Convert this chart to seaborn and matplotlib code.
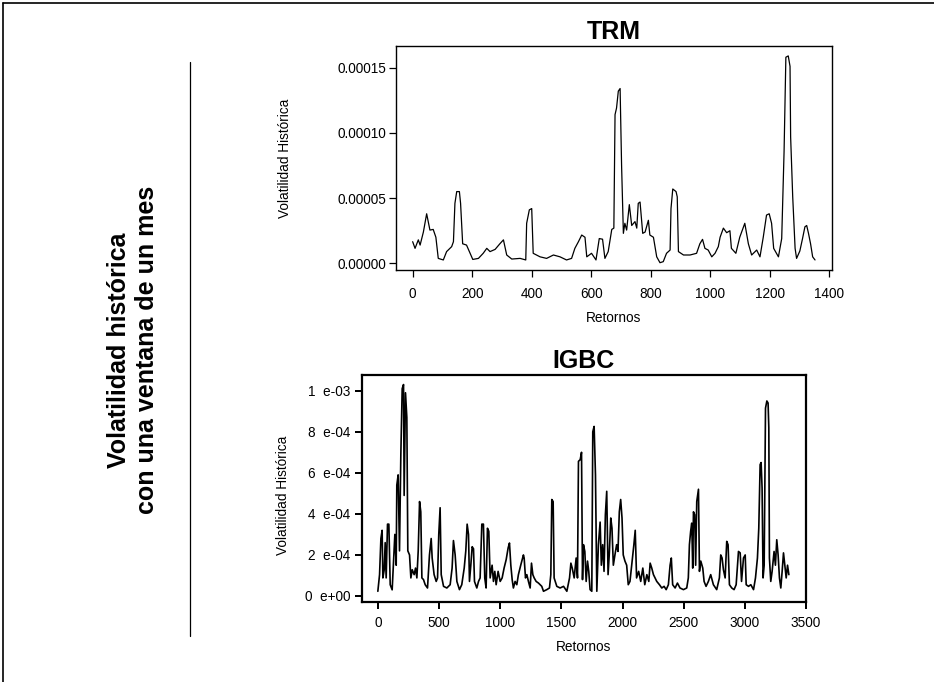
import matplotlib
matplotlib.use("Agg")
import numpy as np
import pandas as pd
import matplotlib.pyplot as plt
import seaborn as sns
from matplotlib.lines import Line2D

# ---------------- data ----------------
trm_x = [0, 8, 19, 25, 36, 47, 58, 69, 78, 86, 103, 114, 131, 137, 142, 148, 157, 161, 168, 181,
         193, 202, 221, 237, 249, 260, 277, 293, 305, 316, 333, 361, 380, 383, 392, 400, 405, 428, 450, 473,
         495, 517, 534, 545, 557, 568, 579, 585, 601, 616, 627, 638, 646, 657, 669, 676, 680, 685, 691, 697,
         702, 708, 713, 719, 728, 736, 747, 753, 758, 764, 773, 781, 792, 797, 809, 820, 831, 842, 853, 865,
         868, 874, 885, 889, 893, 910, 932, 954, 965, 974, 982, 993, 1005, 1016, 1027, 1033, 1044, 1055, 1066, 1071,
         1086, 1099, 1116, 1128, 1139, 1156, 1167, 1178, 1189, 1198, 1206, 1213, 1229, 1240, 1248, 1254, 1262, 1268, 1270, 1277,
         1285, 1290, 1301, 1310, 1318, 1324, 1330, 1337, 1344, 1352]
trm_y = [1.66, 1.15, 1.8, 1.4, 2.4, 3.8, 2.55, 2.6, 2.0, 0.38, 0.26, 0.9, 1.28, 1.66, 4.6, 5.5, 5.5, 4.6, 1.5, 1.4,
         0.77, 0.3, 0.38, 0.77, 1.15, 0.9, 1.07, 1.5, 1.8, 0.64, 0.33, 0.38, 0.26, 3.07, 4.1, 4.2, 0.77, 0.5, 0.38, 0.64,
         0.5, 0.26, 0.38, 1.15, 1.66, 2.17, 2.0, 0.5, 0.77, 0.26, 1.9, 1.85, 0.38, 0.9, 2.6, 2.7, 11.4, 11.9, 13.2, 13.4,
         7.5, 2.3, 3.07, 2.55, 4.5, 2.9, 3.2, 2.7, 4.6, 4.7, 2.3, 2.4, 3.3, 2.17, 2.0, 0.5, 0.05, 0.13, 0.77, 1.02,
         4.2, 5.7, 5.5, 5.1, 0.9, 0.64, 0.64, 0.77, 1.5, 1.84, 1.15, 1.02, 0.5, 0.77, 1.28, 2.0, 2.7, 2.35, 2.5, 1.15,
         0.77, 2.0, 3.07, 1.5, 0.64, 1.02, 0.5, 2.0, 3.7, 3.8, 3.07, 1.15, 0.5, 1.9, 8.6, 15.8, 15.9, 15.1, 9.7, 5.1,
         1.15, 0.38, 0.95, 1.9, 2.8, 2.9, 2.3, 1.5, 0.5, 0.26]   # units of 1e-5

igbc_x = [0, 14, 25, 35, 41, 52, 60, 68, 79, 90, 101, 117, 128, 139, 150, 155, 166, 177, 188, 199,
          210, 215, 226, 237, 245, 259, 270, 281, 297, 308, 319, 330, 341, 351, 360, 373, 387, 406, 422, 436,
          444, 460, 477, 488, 498, 509, 518, 537, 564, 591, 607, 618, 632, 646, 667, 686, 706, 719, 730, 741,
          749, 760, 771, 782, 790, 809, 823, 836, 850, 863, 874, 885, 896, 907, 918, 934, 945, 956, 967, 983,
          1000, 1016, 1032, 1049, 1065, 1076, 1087, 1098, 1108, 1122, 1136, 1149, 1168, 1190, 1196, 1207, 1218, 1231, 1245, 1256,
          1267, 1278, 1294, 1313, 1327, 1340, 1354, 1381, 1403, 1414, 1422, 1433, 1441, 1463, 1490, 1518, 1545, 1567, 1578, 1589,
          1605, 1621, 1632, 1640, 1654, 1665, 1673, 1681, 1692, 1703, 1714, 1724, 1735, 1749, 1757, 1768, 1779, 1790, 1803, 1817,
          1827, 1838, 1849, 1860, 1871, 1882, 1893, 1904, 1914, 1925, 1938, 1952, 1963, 1974, 1985, 1996, 2006, 2020, 2034, 2047,
          2061, 2075, 2093, 2104, 2115, 2132, 2149, 2166, 2182, 2199, 2215, 2226, 2239, 2253, 2266, 2280, 2302, 2321, 2340, 2357,
          2375, 2389, 2399, 2410, 2430, 2449, 2470, 2498, 2525, 2538, 2547, 2557, 2566, 2574, 2580, 2590, 2598, 2607, 2621, 2629,
          2640, 2656, 2667, 2683, 2702, 2721, 2743, 2770, 2792, 2803, 2814, 2825, 2839, 2852, 2863, 2874, 2893, 2912, 2929, 2948,
          2962, 2973, 2989, 3003, 3011, 3030, 3049, 3071, 3087, 3103, 3114, 3125, 3133, 3141, 3149, 3158, 3169, 3180, 3190, 3196,
          3201, 3212, 3223, 3239, 3250, 3261, 3272, 3283, 3294, 3305, 3316, 3327, 3338, 3349, 3360]
igbc_y = [0.23, 1.04, 2.8, 3.2, 0.88, 1.28, 2.6, 0.88, 3.5, 3.5, 0.55, 0.3, 1.7, 3.0, 1.5, 5.4, 5.9, 2.2, 6.9, 10.1,
          10.3, 4.9, 9.9, 8.7, 2.2, 2.0, 0.88, 1.28, 1.04, 1.36, 0.88, 2.2, 4.6, 4.1, 0.88, 0.8, 0.55, 0.39, 2.0, 2.8,
          1.85, 1.04, 0.71, 0.88, 3.0, 4.3, 1.04, 0.47, 0.39, 0.55, 1.36, 2.7, 2.0, 0.71, 0.31, 0.55, 1.36, 2.2, 3.5, 3.0,
          0.71, 1.5, 2.4, 2.3, 0.71, 0.39, 0.71, 0.88, 3.5, 3.5, 0.88, 0.39, 3.3, 3.15, 0.88, 1.5, 0.71, 1.2, 0.55, 1.2,
          0.71, 0.88, 1.36, 1.77, 2.34, 2.58, 1.5, 0.8, 0.39, 0.71, 0.55, 1.04, 1.5, 2.0, 1.85, 0.88, 1.04, 0.71, 0.39, 1.6,
          1.04, 0.88, 0.71, 0.63, 0.55, 0.47, 0.23, 0.31, 0.39, 1.04, 4.7, 4.6, 0.88, 0.47, 0.39, 0.47, 0.23, 0.88, 1.6, 1.36,
          0.88, 1.85, 0.88, 6.56, 6.64, 7.0, 0.8, 2.5, 2.17, 0.71, 1.7, 1.2, 0.31, 0.23, 8.0, 8.26, 5.9, 0.23, 2.5, 3.6,
          1.5, 2.5, 1.2, 3.96, 5.1, 1.04, 2.17, 3.8, 3.3, 1.5, 2.0, 2.5, 2.17, 4.1, 4.7, 3.8, 2.0, 1.7, 1.5, 0.55,
          0.71, 1.5, 2.5, 3.2, 0.88, 1.2, 0.71, 1.36, 0.55, 1.04, 0.71, 1.6, 1.36, 1.04, 0.88, 0.71, 0.55, 0.39, 0.47, 0.31,
          0.55, 1.5, 1.85, 0.55, 0.39, 0.63, 0.39, 0.31, 0.39, 0.88, 2.5, 3.15, 3.55, 1.36, 4.1, 3.96, 1.5, 4.6, 5.2, 1.2,
          1.7, 1.36, 0.71, 0.47, 0.71, 1.04, 0.55, 0.31, 0.88, 2.0, 1.85, 1.28, 0.88, 2.66, 2.5, 0.55, 0.39, 0.31, 0.55, 2.17,
          2.1, 0.71, 1.85, 2.0, 0.55, 0.47, 0.55, 0.31, 0.88, 1.85, 3.3, 6.4, 6.5, 5.26, 0.88, 1.5, 9.15, 9.5, 9.4, 8.2,
          1.85, 0.71, 1.2, 2.17, 1.5, 2.74, 2.0, 0.88, 0.39, 1.2, 2.1, 1.5, 0.88, 1.5, 1.04]   # units of 1e-4

trm_xticks = [0, 200, 400, 600, 800, 1000, 1200, 1400]
trm_yticks = [0.0, 0.00005, 0.00010, 0.00015]
trm_yticklabels = ["0.00000", "0.00005", "0.00010", "0.00015"]
igbc_xticks = [0, 500, 1000, 1500, 2000, 2500, 3000, 3500]
igbc_yticks = [0.0, 0.0002, 0.0004, 0.0006, 0.0008, 0.0010]
igbc_yticklabels = ["0  e+00", "2  e-04", "4  e-04", "6  e-04", "8  e-04", "1  e-03"]

df_trm = pd.DataFrame({"Retornos": trm_x, "vol": np.array(trm_y) * 1e-5})
df_igbc = pd.DataFrame({"Retornos": igbc_x, "vol": np.array(igbc_y) * 1e-4})

# ---------------- style ----------------
sns.set_theme(style="white")
plt.rcParams['font.family'] = ['Liberation Sans', 'DejaVu Sans']
plt.rcParams['axes.edgecolor'] = 'black'
plt.rcParams['text.color'] = 'black'
plt.rcParams['axes.labelcolor'] = 'black'

W, H = 934, 682
fig = plt.figure(figsize=(W / 100, H / 100), dpi=100)
fig.patch.set_facecolor('white')

def fx(px):
    return px / W

def fy(py):
    return 1 - py / H

ax1 = fig.add_axes([fx(396), fy(270), fx(831.7) - fx(396), fy(46) - fy(270)])
ax2 = fig.add_axes([fx(361.7), fy(601.7), fx(806) - fx(361.7), fy(375) - fy(601.7)])

sns.lineplot(data=df_trm, x="Retornos", y="vol", ax=ax1, color="black",
             linewidth=0.9, estimator=None, sort=False)
sns.lineplot(data=df_igbc, x="Retornos", y="vol", ax=ax2, color="black",
             linewidth=1.2, estimator=None, sort=False)

ax1.set_xlim(-56, 1408)
ax1.set_ylim(-5.1e-6, 1.666e-4)
ax2.set_xlim(-132, 3473)
ax2.set_ylim(-2.78e-5, 1.0765e-3)

ax1.set_xticks(trm_xticks)
ax1.set_xticklabels([str(t) for t in trm_xticks])
ax1.set_yticks(trm_yticks)
ax1.set_yticklabels(trm_yticklabels)
ax2.set_xticks(igbc_xticks)
ax2.set_xticklabels([str(t) for t in igbc_xticks])
ax2.set_yticks(igbc_yticks)
ax2.set_yticklabels(igbc_yticklabels)

for ax, lw in ((ax1, 1.0), (ax2, 1.6)):
    for s in ax.spines.values():
        s.set_visible(True)
        s.set_linewidth(lw)
        s.set_color('black')
    ax.tick_params(axis='both', which='both', bottom=True, left=True, direction='out',
                   length=5, width=lw * 0.9, colors='black', labelsize=9.8)
    ax.grid(False)

ax1.tick_params(axis='x', pad=7)
ax1.tick_params(axis='y', pad=2)
ax2.tick_params(axis='x', pad=5)
ax2.tick_params(axis='y', pad=3)

ax1.set_title("TRM", fontsize=18, fontweight='bold', pad=5)
ax2.set_title("IGBC", fontsize=18, fontweight='bold', pad=5)

ax1.set_xlabel("Retornos", fontsize=9.8)
ax1.set_ylabel("Volatilidad Histórica", fontsize=9.8)
ax2.set_xlabel("Retornos", fontsize=9.8)
ax2.set_ylabel("Volatilidad Histórica", fontsize=9.8)

ax1.xaxis.set_label_coords(0.5, -48 / 224)
ax1.xaxis.label.set_va('center')
ax1.yaxis.set_label_coords(-111 / 435.7, 0.5)
ax1.yaxis.label.set_va('center')
ax2.xaxis.set_label_coords(0.5, -45 / 226.7)
ax2.xaxis.label.set_va('center')
ax2.yaxis.set_label_coords(-78.7 / 444.3, 0.47)
ax2.yaxis.label.set_va('center')

# left side title
fig.text(fx(133), fy(350), "Volatilidad histórica\ncon una ventana de un mes",
         rotation=90, ha='center', va='center', multialignment='center',
         fontsize=18, fontweight='bold', linespacing=1.2)

# decorations: separator and page frame
fig.add_artist(Line2D([fx(190), fx(190)], [fy(62), fy(636)], color='black',
                      linewidth=0.9, transform=fig.transFigure))
fig.add_artist(Line2D([fx(2.5), fx(2.5)], [0, fy(2.5)], color='black',
                      linewidth=1.2, transform=fig.transFigure))
fig.add_artist(Line2D([fx(2.5), 1], [fy(2.5), fy(2.5)], color='black',
                      linewidth=1.2, transform=fig.transFigure))

fig.savefig("out.png", dpi=100, facecolor='white')
